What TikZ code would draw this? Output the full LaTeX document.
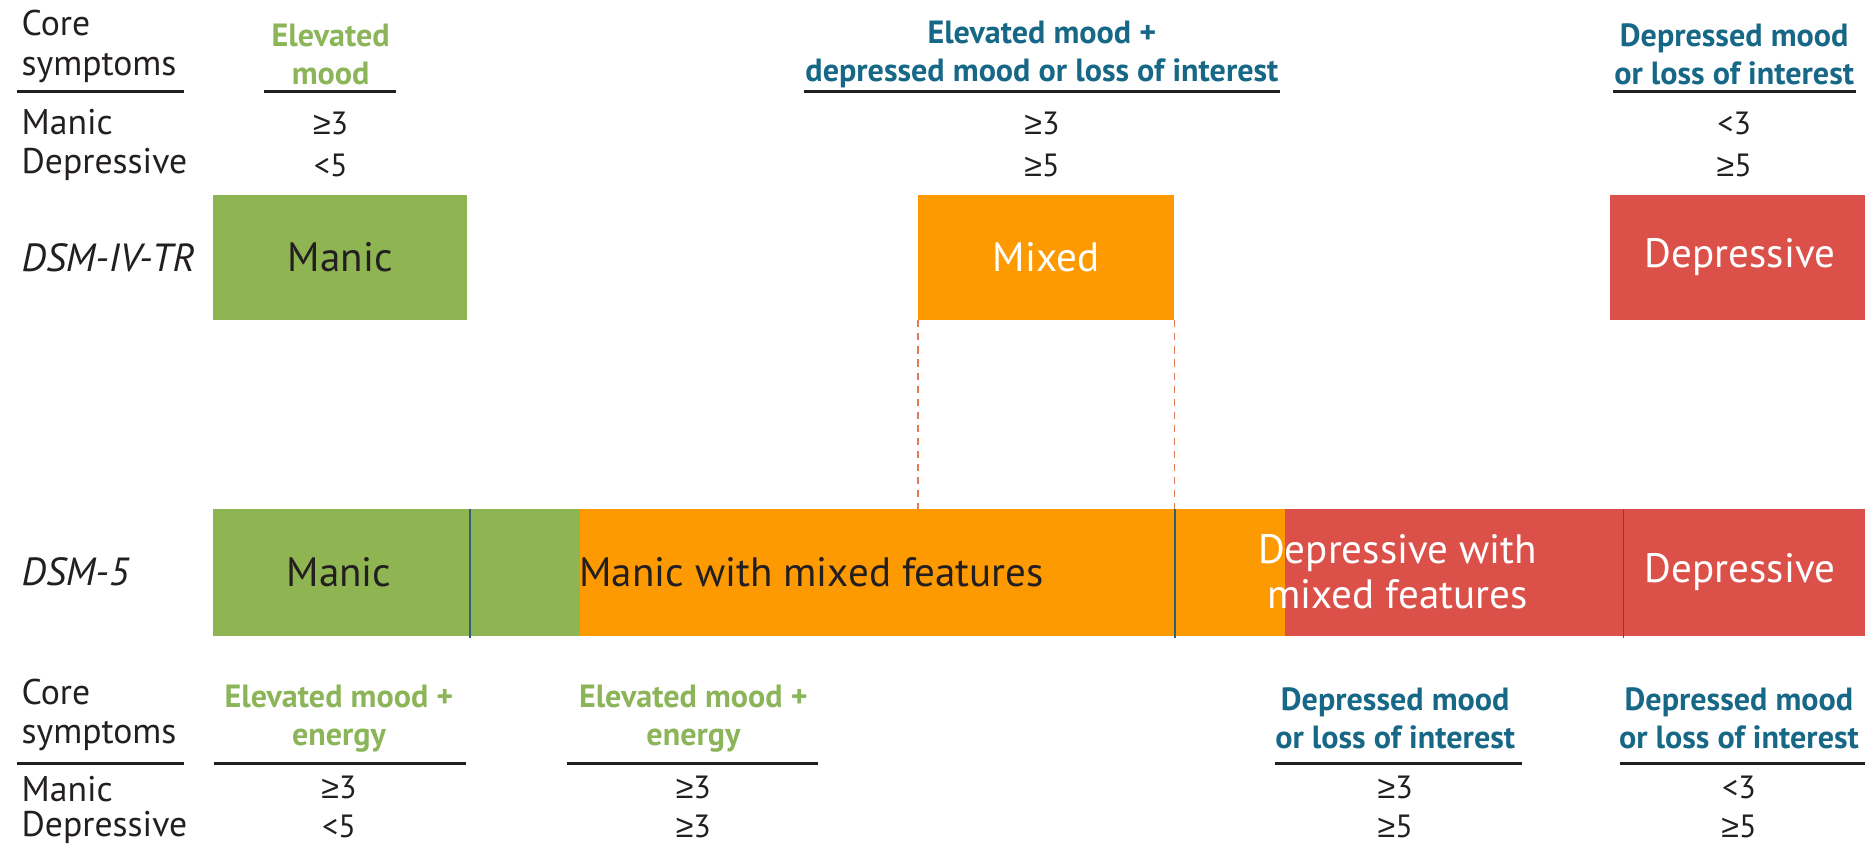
\documentclass[tikz,border=0pt]{standalone}
\usepackage{fontspec}
\setmainfont{PT Sans}
\newfontfamily\symfont{Liberation Sans}
\newcommand{\gtr}{{\symfont ≥}}
\definecolor{mgreen}{HTML}{8FB553}
\definecolor{morange}{HTML}{FD9A01}
\definecolor{mred}{HTML}{DB5149}
\definecolor{hgreen}{HTML}{8CB55A}
\definecolor{hblue}{HTML}{176887}
\definecolor{txt}{HTML}{231F20}
\definecolor{divc}{HTML}{2A6078}
\definecolor{dashc}{HTML}{E07A55}
\begin{document}
\begin{tikzpicture}[x=1pt,y=-1pt,
  lbl/.style={font=\fontsize{30}{33}\selectfont, text=txt, inner sep=0pt, anchor=west, align=left},
  ital/.style={lbl, font=\itshape\fontsize{33}{36}\selectfont},
  num/.style={font=\fontsize{27}{30}\selectfont, text=txt, inner sep=0pt},
  hdg/.style={font=\bfseries\fontsize{27}{32}\selectfont, align=center, inner sep=0pt},
  hdgreen/.style={hdg, text=hgreen},
  hdblue/.style={hdg, text=hblue},
  rulel/.style={line width=2pt, draw=txt},
  boxlbl/.style={font=\fontsize{34.5}{38}\selectfont, inner sep=0pt, align=center},
  colbox/.style={minimum height=105pt, inner sep=0pt, draw=none},
  barseg/.style={minimum height=107pt, inner sep=0pt, draw=none},
  divider/.style={line width=1.2pt, draw=divc},
  dashline/.style={line width=1pt, draw=dashc, dash pattern=on 6pt off 5pt},
]
\useasboundingbox (0,0) rectangle (1568,710);

% ---------- DSM-IV-TR: header rows ----------
\node[lbl] (coreA) at (18,39) {Core\\symptoms};
\node[lbl] (manA) at (18,103) {Manic};
\node[lbl] (depA) at (18,138) {Depressive};
\draw[rulel] (14,77) -- (155,77);

\node[hdgreen] (hA1) at (278,46) {Elevated\\mood};
\draw[rulel] (222,77) -- (333,77);
\node[num] (nA1m) at (278,104) {\gtr3};
\node[num] (nA1d) at (278,139) {<5};

\node[hdblue] (hA2) at (876,46) {Elevated mood +\\depressed mood or loss of interest};
\draw[rulel] (676,77) -- (1076,77);
\node[num] (nA2m) at (876,104) {\gtr3};
\node[num] (nA2d) at (876,139) {\gtr5};

\node[hdblue] (hA3) at (1458,46) {Depressed mood\\or loss of interest};
\draw[rulel] (1356,77) -- (1560,77);
\node[num] (nA3m) at (1458,104) {<3};
\node[num] (nA3d) at (1458,139) {\gtr5};

% ---------- DSM-IV-TR: episode boxes ----------
\node[ital] (dsm4) at (18,217) {DSM-IV-TR};
\node[colbox, fill=mgreen, minimum width=214pt] (m4) at (286,216.5) {};
\node[boxlbl, text=txt] (m4t) at (m4.center) {Manic};
\node[colbox, fill=morange, minimum width=215pt] (x4) at (879.5,216.5) {};
\node[boxlbl, text=white] (x4t) at (x4.center) {Mixed};
\node[colbox, fill=mred, minimum width=214pt] (d4) at (1461,216.5) {};
\node[boxlbl, text=white] (d4t) at (1463,216.5) {Depressive};

% ---------- DSM-5: episode bar ----------
\node[ital] (dsm5) at (18,481) {DSM-5};
\node[barseg, fill=mgreen, minimum width=309pt] (g5) at (333.5,481.5) {};
\node[barseg, fill=morange, minimum width=592pt] (o5) at (784,481.5) {};
\node[barseg, fill=mred, minimum width=488pt] (r5) at (1324,481.5) {};
\node[boxlbl, text=txt] (g5t) at (285,481) {Manic};
\node[boxlbl, text=txt, anchor=west] (o5t) at (487,481) {Manic with mixed features};
\node[boxlbl, text=white] (r5t) at (1175,481) {Depressive with\\mixed features};
\node[boxlbl, text=white] (r5b) at (1463,481) {Depressive};
\draw[divider] (395,428) -- (395,536);
\draw[divider] (988,428) -- (988,536);
\draw[divider] (1365,428) -- (1365,536);

% the mixed episode maps onto part of the DSM-5 bar
\draw[dashline] (x4.south west) -- (x4.south west |- o5.north);
\draw[dashline] (x4.south east) -- (x4.south east |- o5.north);

% ---------- DSM-5: criteria rows ----------
\node[lbl] (coreB) at (18,601) {Core\\symptoms};
\node[lbl] (manB) at (18,663) {Manic};
\node[lbl] (depB) at (18,696) {Depressive};
\draw[rulel] (14,642) -- (155,642);

\node[hdgreen] (hB1) at (285,604) {Elevated mood +\\energy};
\draw[rulel] (180,642) -- (392,642);
\node[num] (nB1m) at (285,662) {\gtr3};
\node[num] (nB1d) at (285,695) {<5};

\node[hdgreen] (hB2) at (583,604) {Elevated mood +\\energy};
\draw[rulel] (477,642) -- (688,642);
\node[num] (nB2m) at (583,662) {\gtr3};
\node[num] (nB2d) at (583,695) {\gtr3};

\node[hdblue] (hB3) at (1173,604) {Depressed mood\\or loss of interest};
\draw[rulel] (1072,642) -- (1280,642);
\node[num] (nB3m) at (1173,662) {\gtr3};
\node[num] (nB3d) at (1173,695) {\gtr5};

\node[hdblue] (hB4) at (1462,604) {Depressed mood\\or loss of interest};
\draw[rulel] (1362,642) -- (1568,642);
\node[num] (nB4m) at (1462,662) {<3};
\node[num] (nB4d) at (1462,695) {\gtr5};
\end{tikzpicture}
\end{document}
